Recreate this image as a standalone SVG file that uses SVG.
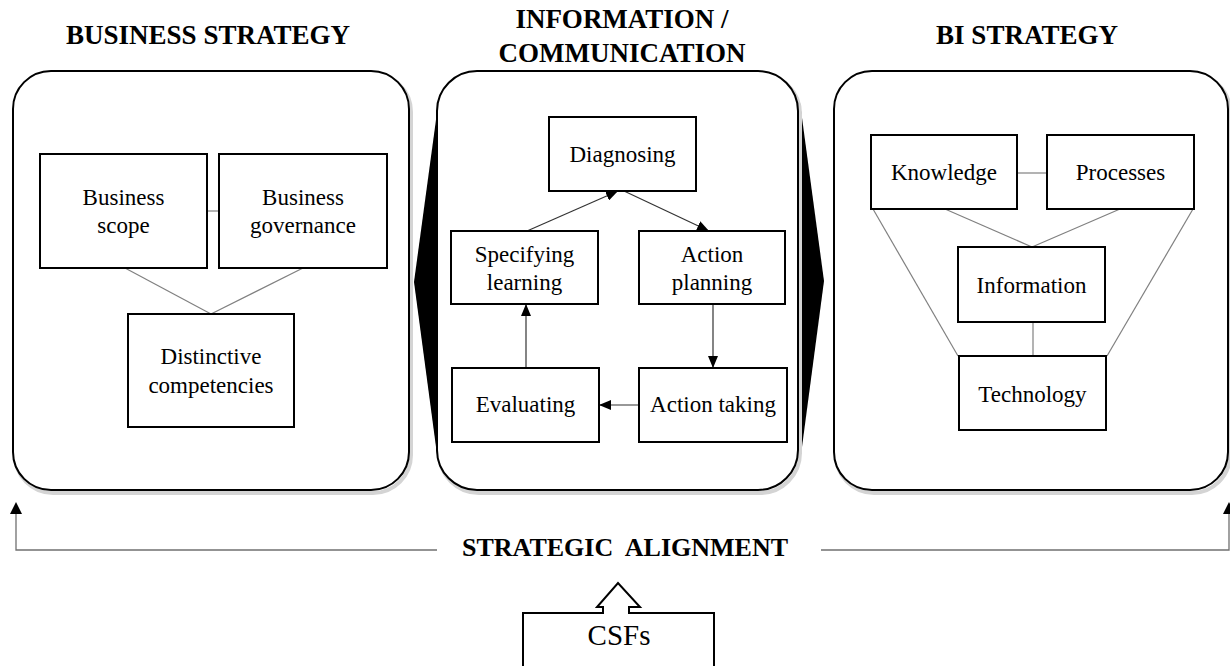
<svg xmlns="http://www.w3.org/2000/svg" width="1230" height="666" viewBox="0 0 1230 666" font-family="'Liberation Serif', 'Times New Roman', Times, 'DejaVu Serif', serif">
<style>
text{font-family:'Liberation Serif','Times New Roman',Times,'DejaVu Serif',serif;fill:#000}
.title{font-size:27px;font-weight:bold;text-anchor:middle}
.lbl{font-size:23px;text-anchor:middle}
.panel{fill:#fff;stroke:#000;stroke-width:2}
.shadow{fill:none;stroke:#d4d4d4;stroke-width:4}
.box{fill:#fff;stroke:#000;stroke-width:2}
.link{stroke:#808080;stroke-width:1.2;fill:none}
.arr{stroke:#333;stroke-width:1.2;fill:none;marker-end:url(#ah)}
.align{stroke:#707070;stroke-width:1.3;fill:none}
</style>
<defs>
<marker id="ah" markerUnits="userSpaceOnUse" markerWidth="12" markerHeight="10" refX="12" refY="5" orient="auto">
<path d="M0,0 L12,5 L0,10 Z" fill="#000"/>
</marker>
</defs>

<g id="titles">
<text class="title" x="208" y="44">BUSINESS STRATEGY</text>
<text class="title" x="622" y="28">INFORMATION /</text>
<text class="title" x="622" y="62">COMMUNICATION</text>
<text class="title" x="1027" y="44">BI STRATEGY</text>
</g>

<g id="double-arrow">
<polygon points="414,282 438,105 800,103 824,281 800,462 438,462" fill="#000"/>
</g>

<g id="panel-business">
<rect class="shadow" x="15" y="74" width="396" height="419" rx="38"/>
<rect class="panel" x="13" y="71" width="396" height="419" rx="38"/>
</g>
<g id="panel-info">
<rect class="shadow" x="439" y="74" width="361" height="419" rx="40"/>
<rect class="panel" x="437" y="71" width="361" height="419" rx="40"/>
</g>
<g id="panel-bi">
<rect class="shadow" x="836" y="74" width="394" height="419" rx="38"/>
<rect class="panel" x="834" y="71" width="394" height="419" rx="38"/>
</g>

<g id="connectors">
<line class="link" x1="207" y1="211" x2="219" y2="211"/>
<line class="link" x1="125" y1="268" x2="211" y2="314"/>
<line class="link" x1="303" y1="268" x2="211" y2="314"/>

<line class="arr" x1="527" y1="231" x2="618" y2="191"/>
<line class="arr" x1="624" y1="191" x2="709" y2="231"/>
<line class="arr" x1="713" y1="304" x2="713" y2="368"/>
<line class="arr" x1="639" y1="405" x2="599" y2="405"/>
<line class="arr" x1="526" y1="368" x2="526" y2="304"/>

<line class="link" x1="1017" y1="173" x2="1047" y2="173"/>
<line class="link" x1="945" y1="209" x2="1032" y2="247"/>
<line class="link" x1="1120" y1="209" x2="1032" y2="247"/>
<line class="link" x1="873" y1="209" x2="958" y2="356"/>
<line class="link" x1="1193" y1="209" x2="1107" y2="356"/>
<line class="link" x1="1033" y1="322" x2="1033" y2="356"/>

<path class="align" d="M437,550 H16 V513"/>
<path d="M16,502 L22,514 L10,514 Z" fill="#000"/>
<path class="align" d="M821,550 H1229 V513"/>
<path d="M1229,502 L1235,514 L1223,514 Z" fill="#000"/>
</g>

<g id="n-business-scope">
<rect class="box" x="40" y="154" width="167" height="114"/>
<text class="lbl" x="123.5" y="205">Business</text>
<text class="lbl" x="123.5" y="233">scope</text>
</g>
<g id="n-business-governance">
<rect class="box" x="219" y="154" width="168" height="114"/>
<text class="lbl" x="303" y="205">Business</text>
<text class="lbl" x="303" y="233">governance</text>
</g>
<g id="n-distinctive">
<rect class="box" x="128" y="314" width="166" height="113"/>
<text class="lbl" x="211" y="364">Distinctive</text>
<text class="lbl" x="211" y="393">competencies</text>
</g>

<g id="n-diagnosing">
<rect class="box" x="549" y="117" width="147" height="74"/>
<text class="lbl" x="622.5" y="162">Diagnosing</text>
</g>
<g id="n-specifying">
<rect class="box" x="451" y="231" width="147" height="73"/>
<text class="lbl" x="524.5" y="262">Specifying</text>
<text class="lbl" x="524.5" y="290">learning</text>
</g>
<g id="n-action-planning">
<rect class="box" x="639" y="231" width="146" height="73"/>
<text class="lbl" x="712" y="262">Action</text>
<text class="lbl" x="712" y="290">planning</text>
</g>
<g id="n-evaluating">
<rect class="box" x="452" y="368" width="147" height="74"/>
<text class="lbl" x="525.5" y="412">Evaluating</text>
</g>
<g id="n-action-taking">
<rect class="box" x="639" y="368" width="148" height="74"/>
<text class="lbl" x="713" y="412">Action taking</text>
</g>

<g id="n-knowledge">
<rect class="box" x="871" y="135" width="146" height="74"/>
<text class="lbl" x="944" y="180">Knowledge</text>
</g>
<g id="n-processes">
<rect class="box" x="1047" y="135" width="147" height="74"/>
<text class="lbl" x="1120.5" y="180">Processes</text>
</g>
<g id="n-information">
<rect class="box" x="958" y="247" width="147" height="75"/>
<text class="lbl" x="1031.5" y="293">Information</text>
</g>
<g id="n-technology">
<rect class="box" x="959" y="356" width="147" height="74"/>
<text class="lbl" x="1032.5" y="402">Technology</text>
</g>

<g id="n-alignment">
<text class="title" x="625" y="556" xml:space="preserve" style="font-size:26px">STRATEGIC  ALIGNMENT</text>
</g>

<g id="n-csfs">
<path d="M523,667 V613 H603 V607 H597 L618,583 L640,607 H629 V613 H714 V667" fill="#fff" stroke="#000" stroke-width="2"/>
<text x="619" y="645" style="font-size:29px;text-anchor:middle">CSFs</text>
</g>
</svg>
